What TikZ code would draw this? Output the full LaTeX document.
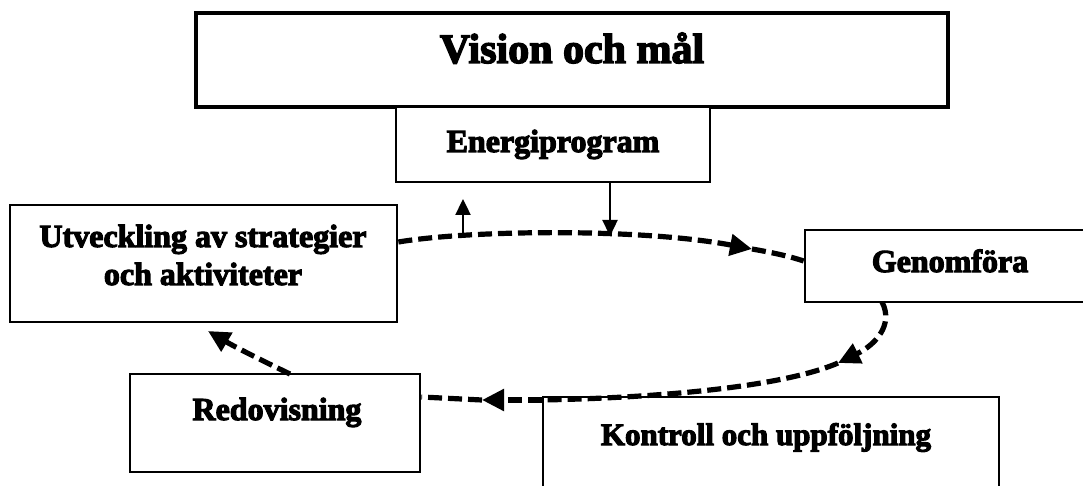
\documentclass[tikz,border=0pt]{standalone}
\usepackage{fontspec}
\setmainfont{Liberation Serif}[BoldFeatures={FakeBold=3.5}]
\usetikzlibrary{arrows.meta}
\begin{document}
\begin{tikzpicture}[x=1pt,y=-1pt,
  box/.style={draw=black, line width=2.8pt, fill=white, inner sep=0pt},
  lbl/.style={font=\bfseries\fontsize{32}{38}\selectfont, align=center, inner sep=0pt},
  biglbl/.style={font=\bfseries\fontsize{42}{44}\selectfont, inner sep=0pt},
  cycle/.style={line width=5.2pt, dash pattern=on 14pt off 6pt},
  cyctip/.style={-{Triangle[length=22pt,width=21pt]}},
  feed/.style={line width=2.4pt, -{Triangle[length=16pt,width=15pt]}}
]
\useasboundingbox (0,0) rectangle (1083,486);
\clip (0,0) rectangle (1083,486);

% boxes
\node[box, line width=3.6pt, minimum width=752pt, minimum height=94pt] (vision) at (572,60) {};
\node[box, minimum width=314pt, minimum height=75pt] (energi) at (553,144.5) {};
\node[box, minimum width=387pt, minimum height=117pt] (utv) at (203.5,263.5) {};
\node[box, minimum width=320pt, minimum height=72pt] (gen) at (965,266) {};
\node[box, minimum width=290pt, minimum height=98pt] (redo) at (275,423) {};
\node[box, minimum width=456pt, minimum height=140pt] (kontr) at (771,467) {};

% labels
\node[biglbl, anchor=base] (visiont) at (572,63) {Vision och mål};
\node[lbl, anchor=base] (energit) at (553,152) {Energiprogram};
\node[lbl] (utvt) at (203,255) {Utveckling av strategier\\och aktiviteter};
\node[lbl, anchor=base] (gent) at (950,272) {Genomföra};
\node[lbl, anchor=base] (redot) at (277,420) {Redovisning};
\node[lbl, font=\bfseries\fontsize{31}{36}\selectfont, anchor=base] (kontrt) at (766,445) {Kontroll och uppföljning};

% points on the cycle
\coordinate (c1) at (utv.north east |- 0,242);
\coordinate (t1) at (752,249);
\coordinate (c2) at (gen.west |- 0,261);
\coordinate (c3) at (882,302);
\coordinate (t2) at (838,363);
\coordinate (c4) at (kontr.north west |- 0,400);
\coordinate (t3) at (482,400);
\coordinate (c5) at (redo.north east |- 0,397);
\coordinate (c6) at (290,374);
\coordinate (t4) at (208,331);
\coordinate (u0) at (463,235);
\coordinate (u1) at (463,199);
\coordinate (d0) at (610,236);

% dashed cycle
\draw[cycle, cyctip] (c1) .. controls (470,230) and (640,228) .. (t1);
\draw[cycle] (t1) .. controls (775,253) and (792,257) .. (c2);
\draw[cycle, cyctip] (c3) .. controls (894,325) and (875,345) .. (t2);
\draw[cycle] (t2) .. controls (780,388) and (650,398) .. (c4);
\draw[cycle, cyctip] (c4) -- (t3);
\draw[cycle] (t3) -- (c5);
\draw[cycle, cyctip] (c6) .. controls (265,362) and (235,347) .. (t4);

% links to the programme
\draw[feed] (u0) -- (u1);
\draw[feed] (energi.south -| d0) -- (d0);
\end{tikzpicture}
\end{document}
